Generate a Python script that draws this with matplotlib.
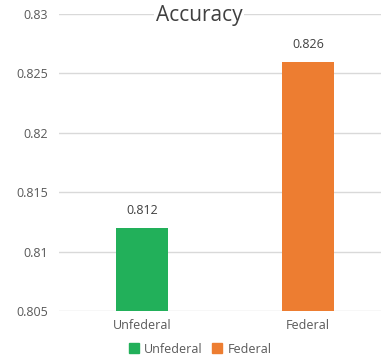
import matplotlib
matplotlib.use("Agg")
import matplotlib.pyplot as plt
from matplotlib.patches import Patch

categories = ["Unfederal", "Federal"]
accuracy = [0.812, 0.826]
bar_colors = ["#22b05a", "#ed7d31"]
yticks = [0.805, 0.81, 0.815, 0.82, 0.825, 0.83]
ytick_labels = ["0.805", "0.81", "0.815", "0.82", "0.825", "0.83"]

plt.rcParams['font.family'] = ['Open Sans', 'DejaVu Sans']
fig = plt.figure(figsize=(3.81, 3.58), dpi=100)
ax = fig.add_axes([0.155, 0.131, 0.871, 0.830])

x = list(range(len(categories)))
ax.bar(x, accuracy, width=0.31, color=bar_colors, zorder=3)
for xi, v in zip(x, accuracy):
    ax.text(xi, v + 0.0009, f"{v:.3f}", ha='center', va='bottom',
            fontsize=9, color='#404040')

ax.set_xlim(-0.5, 1.5)
ax.set_ylim(0.805, 0.83)
ax.set_yticks(yticks)
ax.set_yticklabels(ytick_labels)
ax.set_xticks(x)
ax.set_xticklabels(categories)
ax.tick_params(axis='both', length=0, labelsize=9, colors='#595959')
ax.tick_params(axis='x', pad=6)
ax.tick_params(axis='y', pad=8)
ax.yaxis.grid(True, color='#d9d9d9', linewidth=1, zorder=0)
ax.set_axisbelow(True)
for s in ax.spines.values():
    s.set_visible(False)

fig.text(0.522, 0.958, "Accuracy", ha='center', va='center', fontsize=15,
         color='#404040', bbox=dict(facecolor='white', edgecolor='none', pad=1))

handles = [Patch(color=c, label=l) for c, l in zip(bar_colors, categories)]
fig.legend(handles=handles, loc='center', bbox_to_anchor=(0.525, 0.025),
           ncol=2, frameon=False, fontsize=9, handlelength=0.8, handleheight=0.8,
           handletextpad=0.4, columnspacing=0.8, labelcolor='#595959')

fig.savefig("out.png", dpi=100)
